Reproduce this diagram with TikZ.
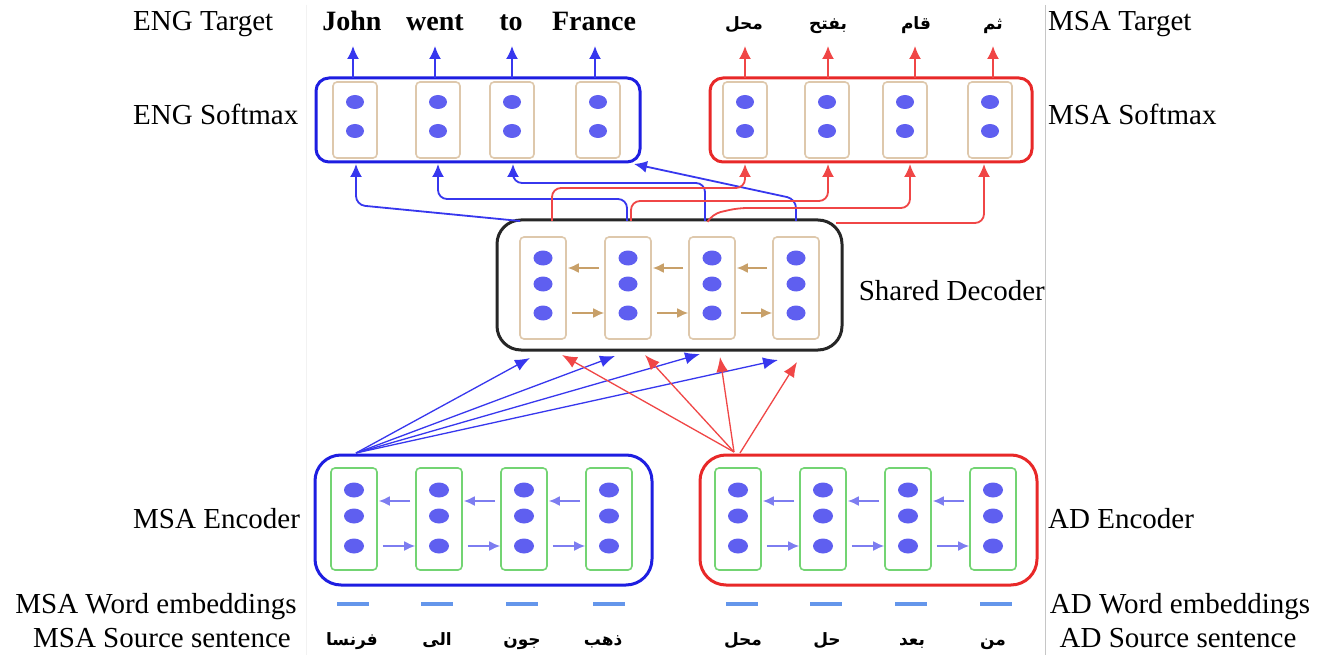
\documentclass[tikz,border=0pt]{standalone}
\usepackage{fontspec}
\setmainfont{Liberation Serif}
\newfontfamily\arabicfont[Script=Arabic]{DejaVu Sans}
\TeXXeTstate=1
\usetikzlibrary{arrows.meta}
\definecolor{bluebox}{RGB}{30,30,225}
\definecolor{bluel}{RGB}{55,55,238}
\definecolor{redbox}{RGB}{232,40,40}
\definecolor{redl}{RGB}{240,70,70}
\definecolor{cellTan}{RGB}{222,200,172}
\definecolor{tanArr}{RGB}{200,160,105}
\definecolor{greenCell}{RGB}{115,212,115}
\definecolor{dotC}{RGB}{95,95,240}
\definecolor{encArr}{RGB}{125,125,240}
\definecolor{embC}{RGB}{100,150,235}
\begin{document}
\begin{tikzpicture}[x=1pt,y=-1pt,
  lab/.style={font=\fontsize{29}{32}\selectfont, inner sep=0pt},
  tword/.style={font=\fontsize{28}{32}\selectfont\bfseries, inner sep=0pt, anchor=base},
  aword/.style={font=\arabicfont\bfseries\fontsize{17}{20}\selectfont, inner sep=0pt, anchor=base},
  bigbox/.style={draw, line width=3pt, inner sep=0pt},
  cellT/.style={draw=cellTan, line width=1.6pt, rounded corners=4pt, minimum width=44pt, minimum height=76pt, inner sep=0pt},
  cellD/.style={draw=cellTan, line width=1.6pt, rounded corners=4pt, minimum width=46pt, minimum height=102pt, inner sep=0pt},
  cellG/.style={draw=greenCell, line width=1.6pt, rounded corners=4pt, minimum width=46pt, minimum height=102pt, inner sep=0pt},
  bigtip/.style={-{Latex[length=13pt,width=12pt]}},
  bline/.style={draw=bluel, line width=1.8pt, rounded corners=9pt, bigtip},
  rline/.style={draw=redl, line width=1.8pt, rounded corners=9pt, bigtip},
  bfan/.style={draw=bluel, line width=1.3pt, -{Latex[length=15pt,width=12pt]}},
  rfan/.style={draw=redl, line width=1.3pt, -{Latex[length=15pt,width=12pt]}},
  encarrow/.style={draw=encArr, line width=1.8pt, -{Latex[length=11pt,width=10pt]}},
  decarrow/.style={draw=tanArr, line width=1.8pt, -{Latex[length=11pt,width=10pt]}},
  emb/.style={draw=embC, line width=4.5pt},
]
\useasboundingbox (0,0) rectangle (1317,655);
\fill[white] (0,0) rectangle (1317,655);
\draw[gray!10, line width=0.8pt] (306,5) -- (306,655);
\draw[gray!45, line width=1pt] (1045,5) -- (1045,655);

% ---------- labels ----------
\node[lab, anchor=base west] (lEngT) at (133,31) {ENG Target};
\node[lab, anchor=base west] (lEngS) at (133,125) {ENG Softmax};
\node[lab, anchor=base west] (lMsaE) at (133,528) {MSA Encoder};
\node[lab, anchor=base] (lMsaW) at (156,613) {MSA Word embeddings};
\node[lab, anchor=base] (lMsaS) at (162,647) {MSA Source sentence};
\node[lab, anchor=base west] (lMsaT) at (1048,31) {MSA Target};
\node[lab, anchor=base west] (lMsaSm) at (1048,125) {MSA Softmax};
\node[lab, anchor=base east] (lDec) at (1045,300) {Shared Decoder};
\node[lab, anchor=base west] (lAdE) at (1048,528) {AD Encoder};
\node[lab, anchor=base] (lAdW) at (1180,613) {AD Word embeddings};
\node[lab, anchor=base] (lAdS) at (1178,647) {AD Source sentence};

% ---------- target words ----------
\node[tword] (w1) at (352,31) {John};
\node[tword] (w2) at (435,31) {went};
\node[tword] (w3) at (511,31) {to};
\node[tword] (w4) at (594,31) {France};
\node[aword] (w5) at (744,30) {\beginR محل\endR};
\node[aword] (w6) at (828,30) {\beginR بفتح\endR};
\node[aword] (w7) at (916,30) {\beginR قام\endR};
\node[aword] (w8) at (993,30) {\beginR ثم\endR};

% ---------- softmax boxes ----------
\node[bigbox, draw=bluebox, rounded corners=13pt, minimum width=324pt, minimum height=84pt] (engbox) at (478,120) {};
\node[bigbox, draw=redbox, rounded corners=13pt, minimum width=322pt, minimum height=84pt] (msabox) at (871,120) {};
\foreach \i/\x in {1/355,2/438,3/512,4/598,5/745,6/827,7/905,8/990}{
  \node[cellT] (c\i) at (\x,120) {};
  \fill[dotC] (\x,102) ellipse [x radius=9, y radius=7];
  \fill[dotC] (\x,131) ellipse [x radius=9, y radius=7];
}

% top arrows
\foreach \i/\x in {1/353,2/435,3/512,4/595}{
  \coordinate (tb\i) at (\x,78);
  \coordinate (tt\i) at (\x,46);
  \draw[draw=bluel, line width=1.8pt, bigtip] (tb\i) -- (tt\i);
}
\foreach \i/\x in {5/745,6/828,7/915,8/993}{
  \coordinate (tb\i) at (\x,78);
  \coordinate (tt\i) at (\x,46);
  \draw[draw=redl, line width=1.8pt, bigtip] (tb\i) -- (tt\i);
}

% ---------- shared decoder ----------
\node[bigbox, draw=black!85, rounded corners=24pt, minimum width=345pt, minimum height=130pt] (dec) at (669.5,285) {};
\foreach \i/\x in {1/543,2/628,3/712,4/796}{
  \node[cellD] (d\i) at (\x,288) {};
  \fill[dotC] (\x,258) ellipse [x radius=9.5, y radius=7.5];
  \fill[dotC] (\x,284) ellipse [x radius=9.5, y radius=7.5];
  \fill[dotC] (\x,313) ellipse [x radius=9.5, y radius=7.5];
}
\foreach \a/\b in {1/2,2/3,3/4}{
  \draw[decarrow] ([xshift=-5pt]d\b.west |- 0,268) -- ([xshift=1pt]d\a.east |- 0,268);
  \draw[decarrow] ([xshift=5pt]d\a.east |- 0,313) -- (d\b.west |- 0,313);
}

% ---------- decoder -> softmax ----------
\coordinate (sb1) at (356,164);
\coordinate (sb2) at (438,164);
\coordinate (sb3) at (513,164);
\coordinate (sb4) at (634,164);
\coordinate (sr1) at (745,164);
\coordinate (sr2) at (828,164);
\coordinate (sr3) at (910,164);
\coordinate (sr4) at (984,164);
\coordinate (o1) at (520,221);
\coordinate (o2) at (627,221);
\coordinate (o3) at (705,221);
\coordinate (o4) at (796,221);
\coordinate (p1) at (552,221);
\coordinate (p2) at (631,221);
\coordinate (p3) at (708,221);
\coordinate (p4) at (836,223);
\draw[bline] (o1) -- (356,205) -- (sb1);
\draw[bline] (o2) -- (627,199) -- (438,199) -- (sb2);
\draw[bline] (o3) -- (705,183) -- (513,183) -- (sb3);
\draw[bline] (o4) -- (796,199) -- (sb4);
\draw[rline] (p1) -- (552,188) -- (745,188) -- (sr1);
\draw[rline] (p2) -- (631,201) -- (828,201) -- (sr2);
\draw[rline] (p3) -- (712,214) -- (738,208) -- (910,208) -- (sr3);
\draw[rline] (p4) -- (984,223) -- (sr4);

% ---------- encoders ----------
\node[bigbox, draw=bluebox, rounded corners=26pt, minimum width=337pt, minimum height=130pt] (msaenc) at (483.5,520) {};
\node[bigbox, draw=redbox, rounded corners=26pt, minimum width=337pt, minimum height=130pt] (adenc) at (868.5,520) {};
\foreach \i/\x in {1/354,2/439,3/524,4/609,5/738,6/823,7/908,8/993}{
  \node[cellG] (g\i) at (\x,519) {};
  \fill[dotC] (\x,490) ellipse [x radius=10, y radius=7.5];
  \fill[dotC] (\x,516) ellipse [x radius=10, y radius=7.5];
  \fill[dotC] (\x,546) ellipse [x radius=10, y radius=7.5];
}
\foreach \a/\b in {1/2,2/3,3/4,5/6,6/7,7/8}{
  \draw[encarrow] ([xshift=-5pt]g\b.west |- 0,501) -- ([xshift=1pt]g\a.east |- 0,501);
  \draw[encarrow] ([xshift=5pt]g\a.east |- 0,546) -- (g\b.west |- 0,546);
}

% ---------- encoder -> decoder ----------
\coordinate (eb) at (356,453);
\coordinate (er) at (734,452);
\coordinate (er2) at (740,453);
\coordinate (fb1) at (530,358);
\coordinate (fb2) at (615,356);
\coordinate (fb3) at (700,354);
\coordinate (fb4) at (778,360);
\coordinate (fr1) at (562,355);
\coordinate (fr2) at (645,355);
\coordinate (fr3) at (720,357);
\coordinate (fr4) at (797,362);
\foreach \j in {1,2,3,4}{ \draw[bfan] (eb) -- (fb\j); }
\foreach \j in {1,2,3}{ \draw[rfan] (er) -- (fr\j); }
\draw[rfan] (er2) -- (fr4);

% ---------- word embeddings ----------
\foreach \i/\x in {1/353,2/437,3/522,4/609,5/742,6/826,7/911,8/996}{
  \coordinate (ea\i) at (\x-16,604);
  \coordinate (eb\i) at (\x+16,604);
  \draw[emb] (ea\i) -- (eb\i);
}

% ---------- source words ----------
\node[aword] (s1) at (352,645) {\beginR فرنسا\endR};
\node[aword] (s2) at (437,645) {\beginR الى\endR};
\node[aword] (s3) at (522,645) {\beginR جون\endR};
\node[aword] (s4) at (603,645) {\beginR ذهب\endR};
\node[aword] (s5) at (743,645) {\beginR محل\endR};
\node[aword] (s6) at (827,645) {\beginR حل\endR};
\node[aword] (s7) at (912,645) {\beginR بعد\endR};
\node[aword] (s8) at (993,645) {\beginR من\endR};
\end{tikzpicture}
\end{document}
